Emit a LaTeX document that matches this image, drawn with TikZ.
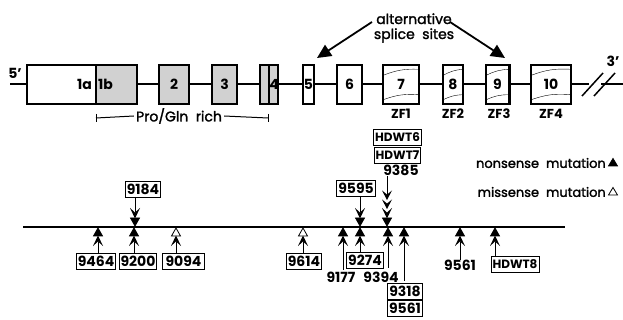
\documentclass[tikz,border=0pt]{standalone}
\usepackage{fontspec}
\setmainfont{Poppins}
\newfontfamily\medfont{Poppins}[FakeBold=1.6]
\usetikzlibrary{arrows.meta,calc}
\newcommand\mutup[3]{% name, x, triangle fill
  \coordinate (#1) at (#2,227);
  \filldraw[fill=#3,line width=0.8pt] (#2,228) -- (#2-4.5,236) -- (#2+4.5,236) -- cycle;
  \fill (#2,235.5) -- (#2-5,246) -- (#2,241.5) -- (#2+5,246) -- cycle;
  \coordinate (#1s) at (#2,242);
}
\newcommand\mutdown[3]{% name, x, triangle fill
  \coordinate (#1) at (#2,227);
  \filldraw[fill=#3,line width=0.8pt] (#2,226) -- (#2-4.5,218) -- (#2+4.5,218) -- cycle;
  \fill (#2,218.5) -- (#2-5,208) -- (#2,212.5) -- (#2+5,208) -- cycle;
  \coordinate (#1s) at (#2,212);
}
\begin{document}
\begin{tikzpicture}[x=1pt,y=-1pt,
  exon/.style={draw,line width=1.4pt,fill=white,minimum height=39pt,inner sep=0pt},
  shadedexon/.style={exon,fill=black!18},
  elab/.style={font=\bfseries\fontsize{14}{14}\selectfont,inner sep=0pt},
  txt/.style={font=\medfont\fontsize{13}{13}\selectfont,inner sep=0pt},
  num/.style={font=\bfseries\fontsize{14}{14}\selectfont,inner sep=0pt},
  zflab/.style={font=\bfseries\fontsize{13}{13}\selectfont,inner sep=0pt},
  mbox/.style={draw,line width=0.9pt,inner xsep=1.5pt,inner ysep=0pt,minimum height=16pt,font=\bfseries\fontsize{14}{14}\selectfont},
  hbox/.style={mbox,font=\bfseries\fontsize{12}{12}\selectfont},
  gene/.style={line width=1.6pt},
  stem/.style={line width=1pt},
  fingerarc/.style={line width=0.4pt},
  splice/.style={line width=1.8pt,-{Triangle[length=14pt,width=13pt]}}]
\useasboundingbox (0,0) rectangle (623,320);
% ---------- gene structure ----------
\coordinate (gstart) at (10,84);
\coordinate (gbreakL) at (589,84);
\coordinate (gbreakR) at (601,84);
\coordinate (gend) at (623,84);
\draw[gene] (gstart) -- (gbreakL);
\draw[gene] (gbreakR) -- (gend);
\coordinate (sl1a) at (582,96); \coordinate (sl1b) at (603,73);
\coordinate (sl2a) at (594,96); \coordinate (sl2b) at (615,73);
\draw[line width=1.5pt] (sl1a) -- (sl1b);
\draw[line width=1.5pt] (sl2a) -- (sl2b);
\node[num] (p5) at (15,73) {5'};
\node[num] (p3) at (613,61) {3'};

\node[exon,minimum width=69pt] (e1a) at (61.5,84.5) {};
\node[shadedexon,minimum width=41pt] (e1b) at (116.5,84.5) {};
\node[elab,anchor=east] (l1a) at (92,84) {1a};
\node[elab,anchor=west] (l1b) at (98,84) {1b};
\node[shadedexon,minimum width=30pt] (e2) at (174,84.5) {};
\node[elab] at (e2) {2};
\node[shadedexon,minimum width=25pt] (e3) at (224.5,84.5) {};
\node[elab] at (e3) {3};
\node[shadedexon,minimum width=18pt] (e4) at (269,84.5) {};
\draw[line width=1.2pt] (e4.north) -- (e4.south);
\node[elab] (l4) at (274,84) {4};
\node[exon,minimum width=11pt] (e5) at (308.5,84.5) {};
\node[elab] at (e5) {5};
\node[exon,minimum width=25pt] (e6) at (349.5,84.5) {};
\node[elab] at (e6) {6};
\node[exon,minimum width=36pt] (e7) at (401,84.5) {};
\node[exon,minimum width=20pt] (e8) at (453,84.5) {};
\node[exon,minimum width=23pt] (e9) at (497.5,84.5) {};
\draw[line width=2.6pt] (e9.north east) -- (e9.south east);
\node[exon,minimum width=40pt] (e10) at (551,84.5) {};
\foreach \e/\t in {e7/7,e8/8,e9/9,e10/10}{
  \draw[fingerarc] ($(\e.north west)+(1,11)$) to[bend left=12] ($(\e.north east)+(-1,5)$);
  \draw[fingerarc] ($(\e.south west)+(1,-5)$) to[bend left=12] ($(\e.south east)+(-1,-10)$);
  \node[elab] at (\e) {\t};
}
\node[zflab] at (401,114) {ZF1};
\node[zflab] at (453,114) {ZF2};
\node[zflab] at (499,114) {ZF3};
\node[zflab] at (551,114) {ZF4};

% Pro/Gln rich bracket
\coordinate (brL) at (96,118);
\coordinate (brR) at (268,118);
\node[txt,font=\medfont\fontsize{14}{14}\selectfont,fill=white,inner xsep=2pt] (pg) at (179,116) {Pro/Gln\ \ rich};
\draw[line width=1pt] (brL) -- (pg.west);
\draw[line width=1pt] (pg.east) -- (brR);
\draw[line width=1pt] ($(brL)+(0,-4)$) -- ($(brL)+(0,4)$);
\draw[line width=1pt] ($(brR)+(0,-4)$) -- ($(brR)+(0,4)$);

% alternative splice sites
\node[txt,font=\medfont\fontsize{14}{14}\selectfont,align=center] (alt) at (414,28) {alternative\\[1pt]splice\ \ sites};
\coordinate (aL) at (372,22);
\coordinate (aR) at (450,22);
\coordinate (tip5) at (317,58);
\coordinate (tip9) at (505,58);
\draw[splice] (aL) -- (tip5);
\draw[splice] (aR) -- (tip9);

% ---------- mutation map ----------
\coordinate (mL) at (23,227);
\coordinate (mR) at (565,227);
\draw[line width=2pt] (mL) -- (mR);

% boxes below
\node[mbox] (b9464) at (96,261.5) {9464};
\node[mbox] (b9200) at (138,261.5) {9200};
\node[mbox,inner xsep=3.5pt] (b9094) at (183.5,261.5) {9094};
\node[mbox] (b9614) at (304,261.5) {9614};
\node[mbox] (b9274) at (365,260) {9274};
\node[mbox] (b9318) at (405,291.5) {9318};
\node[mbox] (b9561b) at (405,308.5) {9561};
\node[hbox] (bHDWT8) at (515,264.5) {HDWT8};
\node[num] (t9177) at (341,277) {9177};
\node[num] (t9394) at (381,277) {9394};
\node[num] (t9561) at (460,265) {9561};

% boxes above
\node[mbox] (b9184) at (143,189.5) {9184};
\node[mbox] (b9595) at (356,188.5) {9595};
\node[hbox] (bHDWT6) at (397.5,137.5) {HDWT6};
\node[hbox] (bHDWT7) at (397.5,155) {HDWT7};
\node[num] (t9385) at (401,170) {9385};

% up markers
\mutup{m9464}{98}{black}
\draw[stem] (m9464s) -- (m9464s |- b9464.north);
\mutup{m9200}{134}{black}
\draw[stem] (m9200s) -- (m9200s |- b9200.north);
\mutup{m9094}{176}{white}
\draw[stem] (m9094s) -- (m9094s |- b9094.north);
\mutup{m9614}{303}{white}
\draw[stem] (m9614s) -- (m9614s |- b9614.north);
\mutup{m9177}{343}{black}
\coordinate (e9177) at (343,270);
\draw[stem] (m9177s) -- (e9177);
\mutup{m9274}{360}{black}
\draw[stem] (m9274s) -- (m9274s |- b9274.north);
\mutup{m9394}{388}{black}
\coordinate (e9394) at (388,268);
\draw[stem] (m9394s) -- (e9394);
\mutup{m9318}{404}{black}
\coordinate (e9318) at (404,281);
\draw[stem] (m9318s) -- (e9318);
\mutup{m9561}{460}{black}
\draw[stem] (m9561s) -- (m9561s |- t9561.north);
\mutup{mHD8}{495}{black}
\draw[stem] (mHD8s) -- (mHD8s |- bHDWT8.north);

% down markers
\mutdown{m9184}{135}{black}
\draw[stem] (m9184s) -- (m9184s |- b9184.south);
\mutdown{m9595}{360}{black}
\draw[stem] (m9595s) -- (m9595s |- b9595.south);
\mutdown{m9385}{387}{black}
\fill (387,209) -- (382,199.5) -- (387,203.5) -- (392,199.5) -- cycle;
\fill (387,200) -- (382,190.5) -- (387,194.5) -- (392,190.5) -- cycle;
\coordinate (s9385) at (387,195);
\draw[stem] (s9385) -- (s9385 |- t9385.south);

% legend
\node[txt,anchor=east] (lnon) at (606,163) {nonsense\ \ mutation};
\node[txt,anchor=east] (lmis) at (606,192) {missense\ \ mutation};
\filldraw[line width=0.8pt] (613,158.5) -- (608.5,166) -- (617.5,166) -- cycle;
\filldraw[fill=white,line width=0.8pt] (613,187.5) -- (608.5,195) -- (617.5,195) -- cycle;
\end{tikzpicture}
\end{document}
